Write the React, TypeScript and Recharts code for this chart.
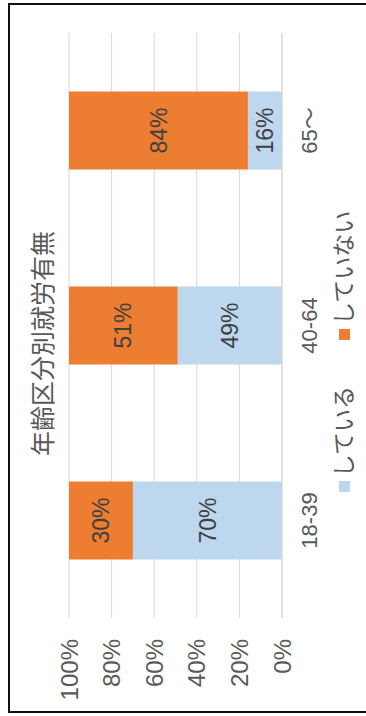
import React from 'react';
import { BarChart, Bar, XAxis, YAxis, CartesianGrid, LabelList } from 'recharts';

const categories = ['18-39', '40-64', '65～'];
const working = [70, 49, 16];
const notWorking = [30, 51, 84];
const percentTicks = [0, 20, 40, 60, 80, 100];

const series = [
  { key: 'working', name: 'している', color: '#BDD7EE' },
  { key: 'notWorking', name: 'していない', color: '#ED7D31' },
];

const data = categories.map((name, i) => ({
  name,
  working: working[i],
  notWorking: notWorking[i],
}));

const FONT = "'Liberation Sans', 'Noto Sans CJK JP', sans-serif";

// the chart is drawn landscape and turned a quarter turn, like the reference
const App: React.FC = () => {
  return (
    <div
      style={{
        position: 'absolute',
        left: 0,
        top: 0,
        width: 366,
        height: 716,
        overflow: 'hidden',
        background: '#fff',
        fontFamily: FONT,
      }}
    >
      <div
        style={{
          position: 'absolute',
          left: 0,
          top: 0,
          width: 716,
          height: 366,
          transformOrigin: '0 0',
          transform: 'translateY(716px) rotate(-90deg)',
        }}
      >
        <div
          style={{
            position: 'absolute',
            left: 3,
            top: 8,
            width: 710,
            height: 420,
            border: '2px solid #111',
            boxSizing: 'border-box',
          }}
        />
        <div
          style={{
            position: 'absolute',
            left: 0,
            top: 26,
            width: 716,
            paddingLeft: 29,
            boxSizing: 'border-box',
            textAlign: 'center',
            fontSize: 25,
            lineHeight: '30px',
            color: '#595959',
            fontFamily: "'Noto Sans CJK JP', sans-serif",
          }}
        >
          年齢区分別就労有無
        </div>
        <BarChart
          width={716}
          height={366}
          data={data}
          margin={{ top: 69, right: 33, left: 0, bottom: 44 }}
          barCategoryGap="30%"
        >
          <CartesianGrid vertical={false} stroke="#D9D9D9" />
          <XAxis
            dataKey="name"
            height={40}
            tickLine={false}
            axisLine={{ stroke: '#D9D9D9' }}
            tickSize={0}
            tickMargin={19}
            tick={{ fill: '#595959', fontSize: 22 }}
          />
          <YAxis
            width={98}
            domain={[0, 100]}
            ticks={percentTicks}
            tickFormatter={(v) => `${v}%`}
            tickLine={false}
            axisLine={false}
            tickSize={0}
            tickMargin={21}
            tick={{ fill: '#595959', fontSize: 24 }}
          />
          {series.map((s) => (
            <Bar key={s.key} dataKey={s.key} name={s.name} stackId="a" fill={s.color} isAnimationActive={false}>
              <LabelList
                dataKey={s.key}
                position="center"
                formatter={(v: any) => `${v}%`}
                fill="#404040"
                fontSize={23}
              />
            </Bar>
          ))}
        </BarChart>
        {/* legend */}
        <div
          style={{
            position: 'absolute',
            left: 0,
            top: 322,
            width: 716,
            height: 44,
            display: 'flex',
            justifyContent: 'center',
            alignItems: 'center',
            paddingLeft: 13,
            boxSizing: 'border-box',
            gap: 46,
          }}
        >
          {series.map((s) => (
            <div key={s.key} style={{ display: 'flex', alignItems: 'center', gap: 4 }}>
              <span style={{ width: 11, height: 11, background: s.color, display: 'inline-block' }} />
              <span style={{ fontSize: 23, color: '#595959', lineHeight: '28px' }}>{s.name}</span>
            </div>
          ))}
        </div>
      </div>
    </div>
  );
};

export default App;
